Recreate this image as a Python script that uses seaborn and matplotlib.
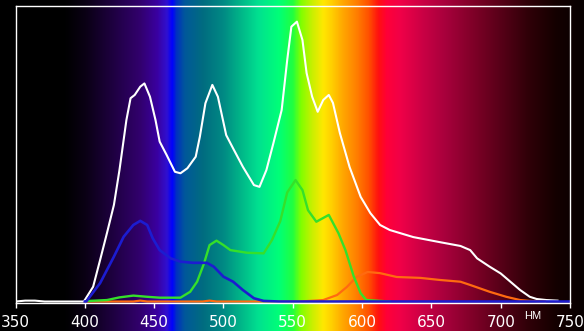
import numpy as np
import pandas as pd
import matplotlib
matplotlib.use("Agg")
import matplotlib.pyplot as plt
from matplotlib.colors import LinearSegmentedColormap
import seaborn as sns

# ---------------- data ----------------
white_wl = [350, 357, 364, 371, 399, 400, 406, 411, 416, 421, 425, 430, 433, 436, 440, 443,
            447, 451, 454, 459, 465, 469, 474, 480, 483, 487, 492, 496, 502, 507, 514, 522,
            526, 531, 536, 542, 546, 549, 553, 557, 560, 564, 568, 572, 576, 579, 584, 591,
            599, 606, 613, 620, 637, 656, 671, 678, 683, 692, 700, 707, 714, 721, 726, 733, 741]
white_val = [0, 0.3, 0.3, 0, 0, 0.5, 5.0, 14.0, 23.2, 32.7, 44.5, 61.4, 68.8, 69.9, 72.7, 73.8,
             69.3, 61.4, 54.1, 49.6, 43.9, 43.4, 45.1, 49.0, 55.8, 67.1, 73.3, 69.3, 56.3, 51.8, 45.6, 39.4,
             38.8, 44.5, 53.5, 64.8, 81.7, 93.0, 94.7, 88.5, 77.3, 69.3, 64.2, 68.2, 69.9, 67.2, 57.0, 45.5,
             35.4, 29.9, 25.9, 24.2, 21.8, 20.1, 18.8, 17.4, 14.6, 11.8, 9.5, 6.7, 3.9, 1.6, 0.85, 0.5, 0.3]

blue_wl = [400, 401, 411, 421, 428, 435, 440, 445, 449, 454, 462, 469, 478, 488, 493, 500,
           507, 514, 522, 529, 540, 750]
blue_val = [0, 0, 6.2, 15.2, 21.9, 25.9, 27.3, 25.9, 21.4, 17.4, 14.6, 13.5, 13.1, 13.1, 11.8, 8.4,
            6.7, 3.9, 1.1, 0.2, 0, 0]

green_wl = [403, 416, 425, 435, 445, 454, 469, 476, 481, 486, 490, 495, 500, 505, 517, 529,
            535, 541, 546, 552, 557, 561, 567, 576, 583, 588, 594, 599, 603, 620]
green_val = [0.2, 0.5, 1.4, 2.0, 1.6, 1.3, 1.3, 3.3, 6.7, 12.9, 19.1, 20.6, 19.1, 17.4, 16.5, 16.3,
             20.8, 27.2, 36.9, 41.1, 37.7, 30.9, 27.0, 29.3, 23.1, 17.4, 8.5, 2.8, 0.5, 0]

orange_wl = [402, 435, 440, 445, 485, 490, 495, 555, 572, 582, 589, 596, 604, 613, 625, 642,
             656, 671, 678, 692, 704, 714, 721, 732]
orange_val = [0, 0, 0.3, 0, 0, 0.3, 0, 0, 0.5, 2.2, 4.9, 8.3, 10.0, 9.6, 8.3, 8.0,
              7.3, 6.7, 5.6, 3.3, 1.6, 0.5, 0.2, 0]

x_ticks = [350, 400, 450, 500, 550, 600, 650, 700, 750]
unit_label = "НМ"

# background spectrum colour stops (wavelength, colour)
spec_wl = [338.8, 385, 400, 420, 440, 452, 459, 463, 466, 472, 485, 500, 512, 525, 540, 550,
           556, 564, 572, 578, 586, 596, 605, 612, 618, 628, 645, 660, 680, 700, 720, 740, 760.1]
spec_col = ["#000000", "#000000", "#0a0014", "#1e0040", "#32006e", "#3a00a0", "#3010d0", "#0000ff",
            "#0030c0", "#00589a", "#006c80", "#008a84", "#00b488", "#00e090", "#00ff78", "#20ff40",
            "#80ff00", "#c8f000", "#ffe800", "#ffd000", "#ffa800", "#ff8000", "#ff5000", "#ff1010",
            "#ff0038", "#f00048", "#c80044", "#a8003c", "#800028", "#580018", "#300008", "#140000",
            "#080000"]

# ---------------- figure ----------------
W, H = 584, 331
fig = plt.figure(figsize=(W / 100, H / 100), dpi=100)
fig.patch.set_facecolor("black")

# background spectrum axes covering whole figure (same wavelength scale)
wl_lo, wl_hi = spec_wl[0], spec_wl[-1]
bg = fig.add_axes([0, 0, 1, 1])
pos = [(w - wl_lo) / (wl_hi - wl_lo) for w in spec_wl]
cmap = LinearSegmentedColormap.from_list("spec", list(zip(pos, spec_col)), N=1024)
grad = np.linspace(0, 1, 1200)[None, :]
bg.imshow(grad, cmap=cmap, aspect="auto", extent=[wl_lo, wl_hi, 0, 1], interpolation="bilinear")
bg.set_xlim(wl_lo, wl_hi)
bg.set_ylim(0, 1)
bg.axis("off")

# main plot axes
left_px, right_px, top_px, bottom_px = 15.5, 570, 6, 303
ax = fig.add_axes([left_px / W, (H - bottom_px) / H,
                   (right_px - left_px) / W, (bottom_px - top_px) / H])
ax.set_facecolor("none")

series = [
    (white_wl, white_val, "#ffffff", 1.5),
    (orange_wl, orange_val, "#ff6a10", 1.6),
    (green_wl, green_val, "#35e02a", 1.7),
    (blue_wl, blue_val, "#1c1cd0", 1.9),
]
for wl, val, col, lw in series:
    df = pd.DataFrame({"wl": wl, "val": val})
    sns.lineplot(data=df, x="wl", y="val", color=col, linewidth=lw, ax=ax,
                 sort=False, estimator=None)

ax.set_xlim(350, 750)
ax.set_ylim(-0.5, 100)
ax.set_xlabel("")
ax.set_ylabel("")
ax.set_yticks([])
ax.set_xticks(x_ticks)
ax.set_xticklabels([str(t) for t in x_ticks],
                   fontfamily=["Liberation Sans Narrow", "DejaVu Sans"], fontsize=11)
ax.tick_params(axis="x", direction="out", length=3.7, width=1, color="white",
               labelcolor="white", pad=5)
for s in ax.spines.values():
    s.set_color("white")
    s.set_linewidth(1.0)

ax.text(723, -0.045, unit_label, transform=ax.get_xaxis_transform(),
        color="white", fontsize=8, ha="center", va="center",
        fontfamily=["Liberation Sans", "DejaVu Sans"])

fig.savefig("out.png", dpi=100, facecolor=fig.get_facecolor())
